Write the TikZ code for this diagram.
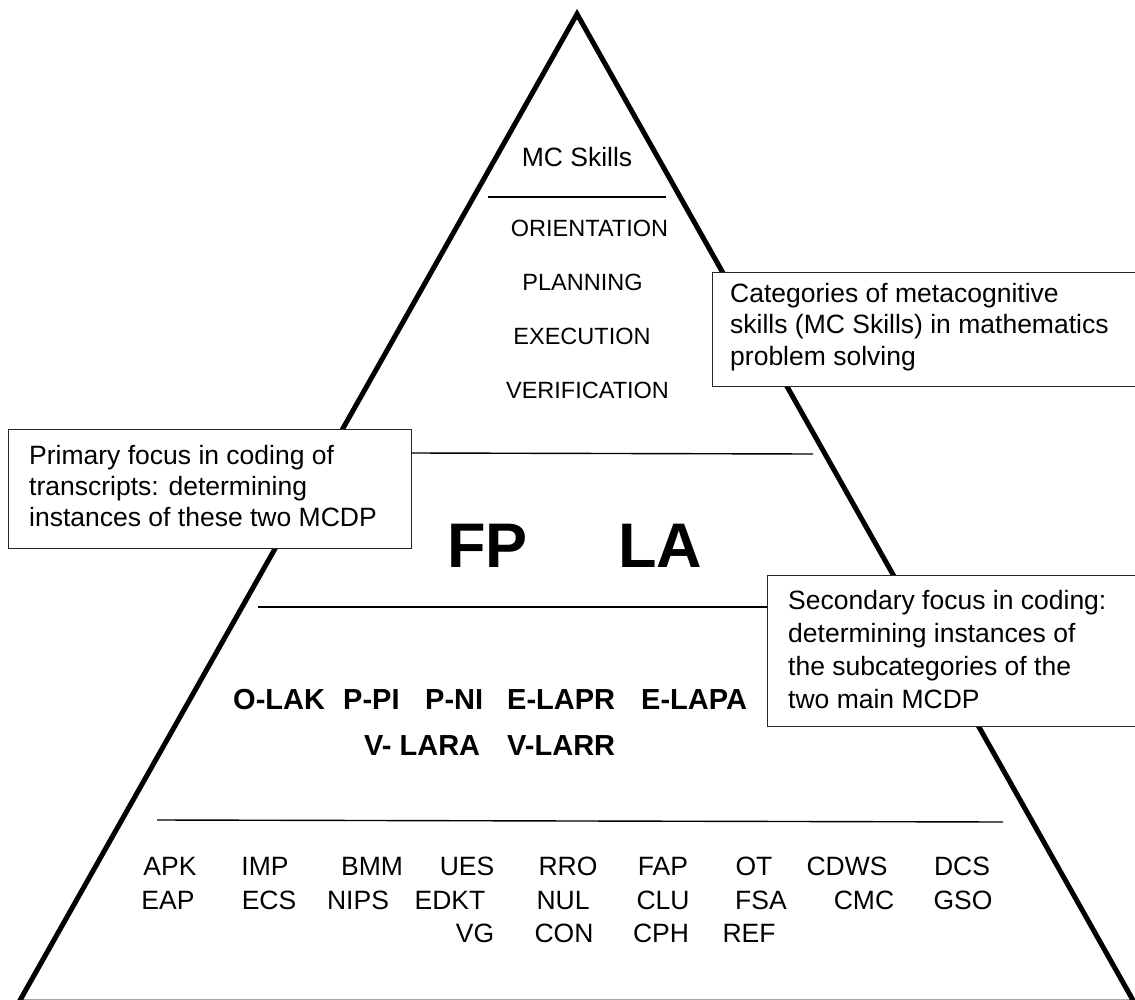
\documentclass[tikz,border=0pt]{standalone}
\usepackage{fontspec}
\setmainfont{Liberation Sans}
\begin{document}
\begin{tikzpicture}[x=1pt,y=-1pt,
  head/.style={inner sep=0pt, font=\fontsize{26.5}{30}\selectfont, anchor=base},
  phase/.style={inner sep=0pt, font=\fontsize{23.5}{28}\selectfont, anchor=base},
  txt/.style={inner sep=0pt, font=\fontsize{26.5}{30}\selectfont, anchor=base},
  note/.style={inner sep=0pt, font=\fontsize{26.5}{30}\selectfont, anchor=base west},
  code/.style={inner sep=0pt, font=\fontsize{29}{33}\selectfont\bfseries, anchor=base west},
  big/.style={inner sep=0pt, font=\fontsize{63}{70}\selectfont\bfseries, anchor=base west},
  tier/.style={line width=1.4pt},
  frame/.style={draw=black!85, line width=1.4pt, fill=white, inner sep=0pt, anchor=north west},
  pyramid/.style={line width=5pt, line join=miter}
]
\useasboundingbox (0,0) rectangle (1135,1000);
\clip (0,0) rectangle (1135,1000);

% pyramid outline
\coordinate (apex) at (577,14);
\coordinate (bl) at (19,1002);
\coordinate (br) at (1134,1002);
\draw[pyramid] (bl) -- (apex) -- (br) -- cycle;

% tier separators
\coordinate (s0a) at (488,197);  \coordinate (s0b) at (666,197);
\coordinate (s1a) at (411,453);  \coordinate (s1b) at (813,454);
\coordinate (s2a) at (258,607);  \coordinate (s2b) at (767,607);
\coordinate (s3a) at (157,820);  \coordinate (s3b) at (1003,822);
\draw[tier] (s0a) -- (s0b);
\draw[tier] (s1a) -- (s1b);
\draw[tier] (s2a) -- (s2b);
\draw[tier] (s3a) -- (s3b);

% top tier: skill categories
\node[head] (mcs) at (577,167) {MC Skills};
\node[phase] (ori) at (589.5,236.5) {ORIENTATION};
\node[phase] (pla) at (582.5,290.5) {PLANNING};
\node[phase] (exe) at (582,344.5) {EXECUTION};
\node[phase] (ver) at (587.5,398.5) {VERIFICATION};

% second tier: main MCDP
\node[big] (fp) at (447,567) {FP};
\node[big] (la) at (618,567) {LA};

% third tier: subcategories
\node[code] (olak) at (233,709) {O-LAK};
\node[code] (ppi)  at (343,709) {P-PI};
\node[code] (pni)  at (425,709) {P-NI};
\node[code] (elapr) at (507,709) {E-LAPR};
\node[code] (elapa) at (641,709) {E-LAPA};
\node[code] (vlara) at (364,755) {V- LARA};
\node[code] (vlarr) at (507,755) {V-LARR};

% bottom tier: codes
\node[txt] (apk)  at (170,875) {APK};
\node[txt] (imp)  at (265,875) {IMP};
\node[txt] (bmm)  at (372,875) {BMM};
\node[txt] (ues)  at (467,875) {UES};
\node[txt] (rro)  at (568,875) {RRO};
\node[txt] (fap)  at (663,875) {FAP};
\node[txt] (ot)   at (754,875) {OT};
\node[txt] (cdws) at (847,875) {CDWS};
\node[txt] (dcs)  at (962,875) {DCS};
\node[txt] (eap)  at (168,909) {EAP};
\node[txt] (ecs)  at (269,909) {ECS};
\node[txt] (nips) at (358,909) {NIPS};
\node[txt] (edkt) at (450,909) {EDKT};
\node[txt] (nul)  at (563,909) {NUL};
\node[txt] (clu)  at (663,909) {CLU};
\node[txt] (fsa)  at (761,909) {FSA};
\node[txt] (cmc)  at (864,909) {CMC};
\node[txt] (gso)  at (963,909) {GSO};
\node[txt] (vg)   at (475,942) {VG};
\node[txt] (con)  at (564,942) {CON};
\node[txt] (cph)  at (661,942) {CPH};
\node[txt] (ref)  at (749,942) {REF};

% callout boxes
\node[frame, minimum width=433pt, minimum height=114pt] (catbox) at (712,272) {};
\node[note] (cat1) at (730,303) {Categories of metacognitive};
\node[note] (cat2) at (730,334) {skills (MC Skills) in mathematics};
\node[note] (cat3) at (730,365) {problem solving};

\node[frame, minimum width=403pt, minimum height=119pt] (pribox) at (8,429) {};
\node[note] (pri1) at (29,464) {Primary focus in coding of};
\node[note] (pri2) at (29,495) {transcripts: determining};
\node[note] (pri3) at (29,526) {instances of these two MCDP};

\node[frame, minimum width=378pt, minimum height=151pt] (secbox) at (767,575) {};
\node[note] (sec1) at (788,609) {Secondary focus in coding:};
\node[note] (sec2) at (788,642) {determining instances of};
\node[note] (sec3) at (788,675) {the subcategories of the};
\node[note] (sec4) at (788,708) {two main MCDP};
\end{tikzpicture}
\end{document}
